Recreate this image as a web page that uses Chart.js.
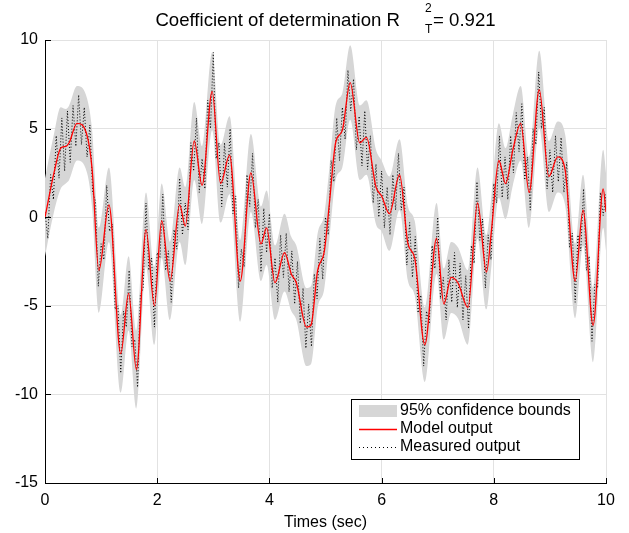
<!DOCTYPE html>
<html>
<head>
<meta charset="utf-8">
<style>
  body { margin: 0; background: #fff; }
  canvas { display: block; }
</style>
<script src="https://cdn.jsdelivr.net/npm/chart.js@4.4.1/dist/chart.umd.min.js"></script>
</head>
<body>
<canvas id="compareChart" width="629" height="533"></canvas>
<script>
// Model output, read at its peaks and troughs
const modelTime = [0.00, 0.16, 0.28, 0.37, 0.43, 0.57, 0.75, 0.84, 0.96, 1.14,
  1.35, 1.49, 1.63, 1.80, 1.95, 2.08, 2.23, 2.40, 2.50, 2.66,
  2.80, 2.98, 3.13, 3.29, 3.48, 3.67, 3.85, 3.95, 4.10, 4.27,
  4.39, 4.48, 4.66, 4.74, 4.86, 4.98, 5.07, 5.18, 5.30, 5.44,
  5.61, 5.73, 5.90, 6.00, 6.14, 6.32, 6.47, 6.59, 6.77, 6.98,
  7.11, 7.24, 7.36, 7.54, 7.71, 7.87, 7.96, 8.09, 8.21, 8.34,
  8.48, 8.63, 8.81, 8.98, 9.14, 9.27, 9.45, 9.59, 9.77, 9.95, 10.00];
const modelOut = [0.0, 2.5, 3.9, 4.0, 4.2, 5.3, 4.6, 2.7, -3.0, 0.7,
  -7.7, -4.3, -8.6, -0.7, -5.0, -0.2, -3.6, 0.7, -0.5, 4.3,
  1.8, 7.1, 1.9, 3.5, -3.6, 2.5, -1.5, -0.6, -3.7, -2.0,
  -3.2, -3.7, -6.2, -6.1, -3.0, -1.9, 0.8, 4.2, 4.9, 7.6,
  4.2, 4.5, 1.7, 1.2, 0.2, 2.4, -1.5, -2.3, -7.2, -1.2,
  -4.9, -3.4, -3.7, -5.1, 0.8, -3.1, -0.7, 3.2, 1.9, 3.8,
  5.3, 1.4, 7.2, 2.3, 3.4, 2.7, -3.6, 0.4, -6.1, 1.6, 0.3];
// half width of the 95% confidence band at each model point
const boundHalf = [2.2, 2.2, 2.3, 2.1, 2.1, 2.1, 2.1, 2.2, 2.4, 2.1,
  2.2, 2.1, 2.2, 2.1, 2.2, 2.1, 2.2, 2.1, 2.2, 2.2,
  2.2, 2.2, 2.2, 2.2, 2.3, 2.2, 2.1, 2.1, 2.1, 2.2,
  2.1, 2.1, 2.2, 2.2, 2.1, 2.1, 2.0, 2.1, 2.1, 2.1,
  2.1, 2.1, 2.1, 2.0, 2.1, 2.0, 2.1, 2.1, 2.1, 2.0,
  2.0, 2.0, 2.0, 2.1, 2.0, 2.1, 2.0, 2.1, 2.0, 2.0,
  2.1, 2.0, 2.2, 2.0, 2.0, 2.0, 2.1, 2.0, 2.1, 2.2, 2.2];

// Measured output, every 0.05 s
const measuredOut = [0.3, -1.2, 2.4, 1.0, 4.6, 2.2, 5.6, 2.6, 6.0, 3.1,
  6.3, 4.0, 6.9, 4.1, 6.2, 3.4, 5.2, 1.4, 0.9, -3.9,
  -1.5, -2.4, 1.8, -0.8, -0.4, -5.2, -5.0, -8.8, -5.3, -6.2,
  -3.0, -7.3, -6.9, -9.6, -4.4, -4.0, 0.8, -3.0, -2.3, -6.2,
  -2.0, -2.3, 1.3, -3.0, -1.9, -4.8, -0.7, -1.8, 2.2, -1.0,
  0.8, -0.7, 4.2, 2.6, 5.6, 1.4, 3.3, 1.6, 6.6, 5.0,
  9.3, 3.3, 4.2, 0.6, 4.2, 1.7, 5.0, 0.2, 1.2, -4.0,
  -1.8, -2.8, 2.4, 0.6, 3.6, -0.6, 1.0, -3.1, 0.5, -2.0,
  0.2, -4.0, -2.3, -4.8, -1.0, -3.4, -0.9, -4.2, -1.9, -4.9,
  -2.5, -6.0, -4.0, -7.4, -4.9, -7.3, -3.2, -4.6, -1.2, -3.5,
  0.0, -1.0, 3.2, 2.0, 5.6, 3.2, 6.2, 4.4, 8.3, 6.0,
  7.8, 3.8, 5.7, 2.9, 6.0, 2.7, 4.6, 0.8, 3.0, 0.0,
  2.6, -0.6, 1.7, -1.0, 2.4, 0.4, 3.6, 0.4, 1.7, -2.7,
  -0.3, -3.4, -1.1, -5.4, -4.4, -8.4, -5.3, -6.0, -1.6, -2.9,
  0.0, -4.6, -3.4, -5.8, -2.4, -4.8, -2.0, -5.1, -2.6, -5.8,
  -3.3, -6.3, -1.6, -2.6, 2.0, -1.3, -0.1, -4.0, -1.0, -2.4,
  1.9, 0.8, 4.6, 1.1, 3.4, 1.0, 4.6, 2.5, 5.9, 3.7,
  6.4, 2.1, 3.4, 0.4, 5.0, 4.1, 8.2, 5.0, 6.2, 1.6,
  3.8, 1.4, 4.6, 2.0, 4.5, 1.4, 3.1, -1.7, -0.9, -4.8,
  -1.0, -1.9, 1.6, -3.0, -2.2, -7.0, -3.8, -4.0, 1.4, 0.1, 1.3];
const measuredStep = 0.05;

const xTicks = [0, 2, 4, 6, 8, 10];
const yTicks = [-15, -10, -5, 0, 5, 10];

const FONT = '"Liberation Sans", Arial, Helvetica, sans-serif';

const modelPts = modelTime.map((t, i) => ({ x: t, y: modelOut[i] }));
const upperPts = modelTime.map((t, i) => ({ x: t, y: modelOut[i] + boundHalf[i] }));
const lowerPts = modelTime.map((t, i) => ({ x: t, y: modelOut[i] - boundHalf[i] }));
const measuredPts = measuredOut.map((v, i) => ({ x: +(i * measuredStep).toFixed(2), y: v }));

// title with R_T^2 drawn by hand
const titlePlugin = {
  id: 'fitTitle',
  afterDraw(chart) {
    const c = chart.ctx;
    const area = chart.chartArea;
    const main = 'Coefficient of determination R';
    const tail = '= 0.921';
    c.save();
    c.fillStyle = '#000';
    c.textBaseline = 'alphabetic';
    c.font = '18.6px ' + FONT;
    const w1 = c.measureText(main).width;
    const w3 = c.measureText(tail).width;
    const gap = 25, w2 = 8;
    let x = (area.left + area.right) / 2 - (w1 + gap + w2 + w3) / 2;
    c.fillText(main, x, 26);
    x += w1 + gap;
    c.font = '12px ' + FONT;
    c.fillText('2', x, 12);
    c.fillText('T', x, 33);
    c.font = '18.6px ' + FONT;
    c.fillText(tail, x + w2, 26);
    c.restore();
  }
};

// inward tick marks plus the legend box
const axesExtras = {
  id: 'axesExtras',
  afterDraw(chart) {
    const c = chart.ctx;
    const { left, bottom } = chart.chartArea;
    const xs = chart.scales.x, ys = chart.scales.y;
    c.save();
    c.strokeStyle = '#000';
    c.lineWidth = 1;
    c.beginPath();
    xTicks.forEach(v => {
      const px = Math.round(xs.getPixelForValue(v)) + 0.5;
      c.moveTo(px, bottom);
      c.lineTo(px, bottom - 5);
    });
    yTicks.forEach(v => {
      const py = Math.round(ys.getPixelForValue(v)) + 0.5;
      c.moveTo(left, py);
      c.lineTo(left + 6, py);
    });
    c.stroke();

    // legend
    const bx = 351, by = 399, bw = 228, bh = 60;
    c.fillStyle = '#fff';
    c.fillRect(bx, by, bw, bh);
    c.strokeStyle = '#000';
    c.strokeRect(bx + 0.5, by + 0.5, bw, bh);
    c.fillStyle = 'rgb(214,214,214)';
    c.fillRect(359, 405, 38, 12);
    c.strokeStyle = 'rgb(255,0,0)';
    c.lineWidth = 1.3;
    c.beginPath();
    c.moveTo(359, 429.5);
    c.lineTo(397, 429.5);
    c.stroke();
    c.lineWidth = 1;
    c.strokeStyle = '#000';
    c.setLineDash([1, 3]);
    c.beginPath();
    c.moveTo(359, 447.5);
    c.lineTo(397, 447.5);
    c.stroke();
    c.setLineDash([]);
    c.fillStyle = '#000';
    c.font = '16px ' + FONT;
    c.textBaseline = 'middle';
    c.fillText('95% confidence bounds', 400, 411);
    c.fillText('Model output', 400, 429);
    c.fillText('Measured output', 400, 447);
    c.restore();
  }
};

const ctx = document.getElementById('compareChart').getContext('2d');
const compareChart = new Chart(ctx, {
  type: 'line',
  data: {
    datasets: [
      {
        label: 'Model output',
        data: modelPts,
        borderColor: '#ff0000',
        borderWidth: 1.3,
        pointRadius: 0,
        cubicInterpolationMode: 'monotone',
        fill: false,
        order: 0
      },
      {
        label: 'Measured output',
        data: measuredPts,
        borderColor: '#000',
        borderWidth: 1,
        borderDash: [1, 2],
        pointRadius: 0,
        tension: 0,
        fill: false,
        order: 1
      },
      {
        label: 'upper',
        data: upperPts,
        borderWidth: 0,
        borderColor: 'rgba(0,0,0,0)',
        backgroundColor: 'rgb(214,214,214)',
        pointRadius: 0,
        cubicInterpolationMode: 'monotone',
        fill: '+1',
        order: 2
      },
      {
        label: 'lower',
        data: lowerPts,
        borderWidth: 0,
        borderColor: 'rgba(0,0,0,0)',
        pointRadius: 0,
        cubicInterpolationMode: 'monotone',
        fill: false,
        order: 3
      }
    ]
  },
  options: {
    responsive: false,
    animation: false,
    devicePixelRatio: 1,
    layout: { padding: { top: 40, right: 23, left: 0, bottom: 0 } },
    plugins: {
      legend: { display: false },
      title: { display: false },
      tooltip: { enabled: false }
    },
    scales: {
      x: {
        type: 'linear',
        min: 0,
        max: 10,
        afterFit: s => { s.height = 50; },
        afterBuildTicks: s => { s.ticks = xTicks.map(v => ({ value: v })); },
        grid: { color: '#e2e2e2', drawTicks: false },
        border: { color: '#000', width: 1 },
        ticks: { color: '#000', font: { family: FONT, size: 16 }, padding: 8, maxRotation: 0 },
        title: { display: true, text: 'Times (sec)', color: '#000', font: { family: FONT, size: 16 }, padding: { top: 0, bottom: 1 } }
      },
      y: {
        type: 'linear',
        min: -15,
        max: 10,
        afterFit: s => { s.width = 45; },
        afterBuildTicks: s => { s.ticks = yTicks.map(v => ({ value: v })); },
        grid: { color: '#e2e2e2', drawTicks: false },
        border: { color: '#000', width: 1 },
        ticks: { color: '#000', font: { family: FONT, size: 16 }, padding: 7 }
      }
    }
  },
  plugins: [titlePlugin, axesExtras]
});
</script>
</body>
</html>
